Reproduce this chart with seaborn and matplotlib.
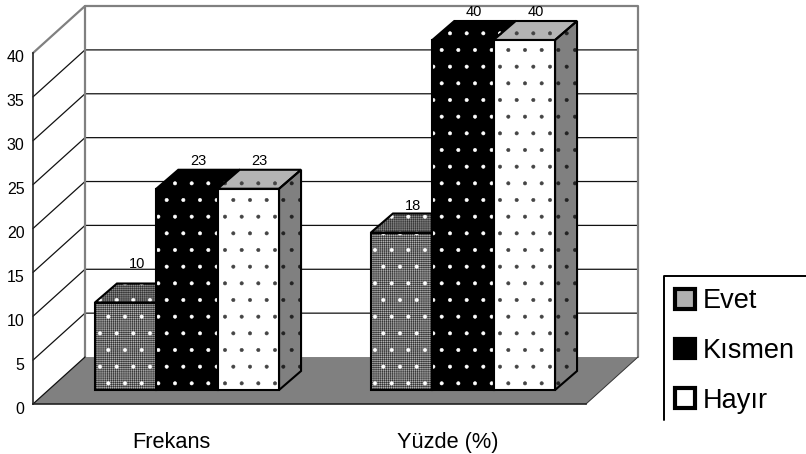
import matplotlib
matplotlib.use("Agg")
import matplotlib.pyplot as plt
import pandas as pd
import seaborn as sns
from matplotlib.lines import Line2D
from matplotlib.patches import Patch, Polygon
from matplotlib.transforms import ScaledTranslation

# values
groups = ["Frekans", "Yüzde (%)"]
answers = ["Evet", "Kısmen", "Hayır"]
evet = [10, 18]
kismen = [23, 40]
hayir = [23, 40]
y_ticks = [0, 5, 10, 15, 20, 25, 30, 35, 40]

W, H = 806, 454
FRONT = {"Evet": "#b0b0b0", "Kısmen": "#000000", "Hayır": "#ffffff"}
TOP = {"Evet": "#8c8c8c", "Kısmen": "#000000", "Hayır": "#b4b4b4"}
DOTS = {"Evet": "#ffffff", "Kısmen": "#ffffff", "Hayır": "#444444"}
SIDE = "#808080"
# the value labels do not sit at a constant height in the original
LABEL_LIFT = {"Evet": [20, 8], "Kısmen": [9, 9], "Hayır": [9, 9]}


def px_axes(fig, left, right, top, bottom):
    return fig.add_axes([left / W, 1 - bottom / H, (right - left) / W, (bottom - top) / H])


def pattern(ax, pts, color, hatch, zorder):
    ax.add_patch(Polygon(pts, fill=False, edgecolor=color, hatch=hatch, lw=0, zorder=zorder, clip_on=False))


def outline(ax, pts, zorder):
    ax.add_patch(Polygon(pts, fill=False, edgecolor="black", lw=1.5, joinstyle="miter", zorder=zorder, clip_on=False))


def face(ax, pts, fc, dots, zorder, fine=False):
    ax.add_patch(Polygon(pts, facecolor=fc, edgecolor="none", zorder=zorder, clip_on=False))
    if fine:
        pattern(ax, pts, "#333333", "++++++++", zorder + 0.01)
    pattern(ax, pts, dots, ".", zorder + 0.02)
    outline(ax, pts, zorder + 0.03)


def draw_frame(ax):
    dx, dy = 52 / 276.5, 47 / 8.78
    ax.set_xlim(0, 2)
    ax.set_ylim(0, 40)
    ax.patch.set_visible(False)
    for v in y_ticks[1:-1]:
        ax.plot([0, dx, 2 + dx], [v, v + dy, v + dy], color="#111111", lw=0.9, clip_on=False, zorder=1)
    ax.plot([0, dx], [40, 40 + dy], color="#808080", lw=1.6, clip_on=False, zorder=1.5)
    ax.plot([dx, dx, 2 + dx, 2 + dx], [dy, 40 + dy, 40 + dy, dy], color="#808080", lw=1.6, clip_on=False, zorder=1.5)
    ax.add_patch(Polygon([(0, 0), (dx, dy), (2 + dx, dy), (2, 0)], facecolor="#808080", edgecolor="none", clip_on=False, zorder=2))
    ax.plot([0, dx], [0, dy], color="#111111", lw=0.9, clip_on=False, zorder=2.5)
    ax.plot([2, 2 + dx], [0, dy], color="#333333", lw=0.7, clip_on=False, zorder=2.5)

    sns.despine(ax=ax)
    ax.spines["left"].set(linewidth=1.2, color="#222222")
    ax.spines["bottom"].set(linewidth=1.2, color="#222222")
    ax.set_yticks(y_ticks)
    ax.set_xticks([0, 1, 2], ["", "", ""])
    ax.set_xticks([0.5, 1.5], groups, minor=True)
    ax.tick_params(axis="y", length=3, width=1, pad=3, labelsize=11.5)
    ax.tick_params(axis="x", which="major", length=5, width=1, color="#444444")
    ax.tick_params(axis="x", which="minor", length=0, pad=20, labelsize=15.7)
    shift = ScaledTranslation(0, -3.5 / 100, ax.figure.dpi_scale_trans)
    for lab in ax.get_yticklabels():
        lab.set_transform(lab.get_transform() + shift)


def draw_bars(ax, df):
    dx, dy = 22 / 276, 19 / 8.75
    sns.barplot(data=df, x="group", y="value", hue="answer", order=groups, hue_order=answers,
                palette=FRONT, width=0.667, gap=0, legend=False, ax=ax, zorder=3)
    ax.set_xlim(-0.5, 1.5)
    ax.set_ylim(0, 40)
    ax.axis("off")

    for i, (name, cont) in enumerate(zip(answers, ax.containers)):
        for j, bar in enumerate(cont.patches):
            x0, x1, h = bar.get_x(), bar.get_x() + bar.get_width(), bar.get_height()
            z = 3 + i
            fine = name == "Evet"
            front = [(x0, 0), (x1, 0), (x1, h), (x0, h)]
            top = [(x0, h), (x1, h), (x1 + dx, h + dy), (x0 + dx, h + dy)]
            side = [(x1, 0), (x1 + dx, dy), (x1 + dx, h + dy), (x1, h)]
            bar.set(linewidth=0, zorder=z + 0.2, clip_on=False)
            if fine:
                pattern(ax, front, "#333333", "++++++++", z + 0.21)
            pattern(ax, front, DOTS[name], ".", z + 0.22)
            outline(ax, front, z + 0.3)
            face(ax, top, TOP[name], DOTS[name], z, fine)
            face(ax, side, SIDE, "#222222", z)
            ax.annotate(str(int(h)), ((x0 + x1) / 2 + dx / 2, h + dy), xytext=(0, LABEL_LIFT[name][j] * 0.72),
                        textcoords="offset points", ha="center", va="center", fontsize=10.5, zorder=10,
                        annotation_clip=False)


def draw_legend(fig):
    fig.add_artist(Line2D([664 / W, 664 / W, 1], [1 - 420 / H, 1 - 276 / H, 1 - 276 / H],
                          color="black", lw=1.4, transform=fig.transFigure))
    handles = [Patch(facecolor=FRONT[a], edgecolor="black", lw=3, label=a) for a in answers]
    fig.legend(handles=handles, loc="upper left", bbox_to_anchor=(670 / W, 1 - 283 / H), frameon=False,
               fontsize=19.5, handlelength=0.72, handleheight=0.72, handletextpad=0.3,
               labelspacing=0.87, borderpad=0.2, borderaxespad=0)


def main():
    sns.set_theme(style="white", rc={"hatch.linewidth": 0.4})
    plt.rcParams["font.family"] = ["Liberation Sans", "DejaVu Sans"]
    plt.rcParams["text.color"] = "black"
    plt.rcParams["axes.edgecolor"] = "black"
    plt.rcParams["xtick.color"] = "black"
    plt.rcParams["ytick.color"] = "black"

    df = pd.DataFrame({
        "group": groups * 3,
        "answer": [a for a in answers for _ in groups],
        "value": evet + kismen + hayir,
    })

    fig = plt.figure(figsize=(W / 100, H / 100), dpi=100, facecolor="white")
    ax_frame = px_axes(fig, 33, 586, 53, 404)
    draw_frame(ax_frame)
    ax_bars = px_axes(fig, 49, 601, 40, 390)
    ax_bars.patch.set_visible(False)
    draw_bars(ax_bars, df)
    draw_legend(fig)
    fig.savefig("out.png", dpi=100)
    plt.close(fig)


if __name__ == "__main__":
    main()
